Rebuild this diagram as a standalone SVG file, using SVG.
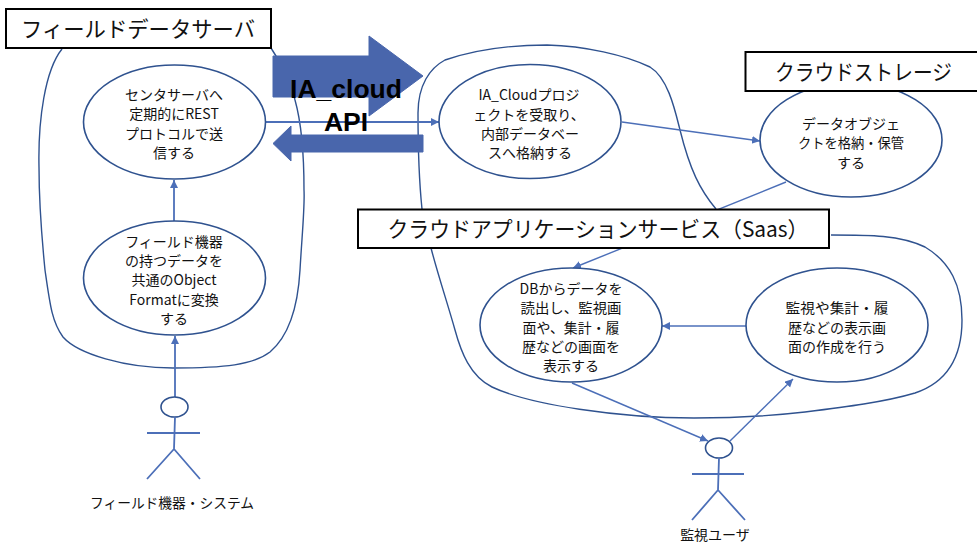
<svg xmlns="http://www.w3.org/2000/svg" width="977" height="543" viewBox="0 0 977 543">
<defs>
<marker id="ah" markerUnits="userSpaceOnUse" markerWidth="10" markerHeight="10" refX="8" refY="4" orient="auto"><path d="M0 0L8 4L0 8Z" fill="#4c6fb8"/></marker>
</defs>
<style>
text{font-family:"Noto Sans CJK JP","Noto Sans",sans-serif;fill:#111;text-anchor:middle}
.t{font-size:14px}
.h{font-size:21.500px}
.b{font-family:"Liberation Sans",Arial,sans-serif;font-weight:700;font-size:26.500px;fill:#000}
.e{fill:#fff;stroke:#2f528f;stroke-width:1.6}
.box{fill:#fff;stroke:#000;stroke-width:2}
.c{fill:none;stroke:#2f528f;stroke-width:1.4}
.k{fill:none;stroke:#4c6fb8;stroke-width:1.4}
.a{fill:none;stroke:#4c6fb8;stroke-width:1.8}
.ar{fill:#4966ac;stroke:#4966ac}
</style>
<rect width="977" height="543" fill="#fff"/>
<g id="clouds">
<path class="c" d="M62 49C45 70 38 120 39 167C39 210 42 240 45 270C50 305 52 322 63 337C78 354 125 368 173 368C225 368 253 365 270 352C290 335 298 305 300 270C302 235 305 205 304 190C304 160 302 125 295 100C291 80 280 62 271 48"/>
<path class="c" d="M431 248C438 275 448 305 455 330C461 352 470 376 492 387C530 405 620 418 694 418C735 418 770 416 805 412C845 407 885 402 915 393C945 383 962 360 962 320C962 285 950 262 925 247C900 235 870 235 831 235"/>
<path class="c" d="M422 209C419 180 418 145 418 113C418 85 430 68 445 60C480 48 520 45 547 45C585 46 625 55 650 67C668 78 675 110 680 130C690 170 700 190 716 209"/>
</g>
<g id="api-arrows">
<path class="ar" d="M273 56H369V36L423 76L369 116V97H273Z"/>
<path class="ar" d="M423 135H291V126L273 143.500L291 161V152H423Z"/>
</g>
<g id="connectors">
<path class="a" marker-end="url(#ah)" d="M265 122H439"/>
<path class="a" marker-end="url(#ah)" d="M174 221V180"/>
<path class="a" marker-end="url(#ah)" d="M175 397V336"/>
<path class="k" marker-end="url(#ah)" d="M622 122L760 141"/>
<path class="k" marker-end="url(#ah)" d="M786 182L573 268"/>
<path class="k" marker-end="url(#ah)" d="M572 383L708 441"/>
<path class="k" marker-end="url(#ah)" d="M746 326H662"/>
<path class="k" marker-end="url(#ah)" d="M730 441L793 379"/>
</g>
<g id="api-label">
<text class="b" x="346" y="98">IA_cloud</text>
<text class="b" x="346" y="131">API</text>
</g>
<g id="n-center"><ellipse class="e" cx="174.500" cy="122" rx="91" ry="57"/>
<text class="t" x="174" y="100">センタサーバへ</text><text class="t" x="174" y="119">定期的にREST</text><text class="t" x="174" y="139">プロトコルで送</text><text class="t" x="174" y="158">信する</text></g>
<g id="n-format"><ellipse class="e" cx="174.500" cy="278" rx="91" ry="57"/>
<text class="t" x="174" y="247">フィールド機器</text><text class="t" x="174" y="266">の持つデータを</text><text class="t" x="174" y="285">共通のObject</text><text class="t" x="174" y="305">Formatに変換</text><text class="t" x="174" y="324">する</text></g>
<g id="n-store"><ellipse class="e" cx="530" cy="121.500" rx="91" ry="57"/>
<text class="t" x="529" y="100">IA_Cloudプロジ</text><text class="t" x="529" y="120">ェクトを受取り、</text><text class="t" x="530" y="139">内部データベー</text><text class="t" x="530" y="158">スへ格納する</text></g>
<g id="n-object"><ellipse class="e" cx="851" cy="140" rx="91" ry="57"/>
<text class="t" x="851" y="129">データオブジェ</text><text class="t" x="851" y="148" textLength="106" lengthAdjust="spacingAndGlyphs">クトを格納・保管</text><text class="t" x="851" y="168">する</text></g>
<g id="n-display"><ellipse class="e" cx="571" cy="325" rx="91" ry="57"/>
<text class="t" x="571" y="294">DBからデータを</text><text class="t" x="571" y="313" textLength="101" lengthAdjust="spacingAndGlyphs">読出し、監視画</text><text class="t" x="571" y="333" textLength="97" lengthAdjust="spacingAndGlyphs">面や、集計・履</text><text class="t" x="571" y="352">歴などの画面を</text><text class="t" x="571" y="371">表示する</text></g>
<g id="n-create"><ellipse class="e" cx="837" cy="325" rx="91" ry="57"/>
<text class="t" x="837" y="313" textLength="103" lengthAdjust="spacingAndGlyphs">監視や集計・履</text><text class="t" x="837" y="333">歴などの表示画</text><text class="t" x="837" y="352">面の作成を行う</text></g>
<g id="l-field"><rect class="box" x="6" y="9" width="265" height="39"/><text class="h" x="138" y="37" textLength="234" lengthAdjust="spacingAndGlyphs">フィールドデータサーバ</text></g>
<g id="l-storage"><rect class="box" x="745.500" y="52" width="240" height="39"/><text class="h" x="863.500" y="80" textLength="177" lengthAdjust="spacingAndGlyphs">クラウドストレージ</text></g>
<g id="l-saas"><rect class="box" x="358" y="209.500" width="471" height="38.500"/><text class="h" x="598" y="237" textLength="421" lengthAdjust="spacingAndGlyphs">クラウドアプリケーションサービス（Saas）</text></g>
<g id="actor-field"><ellipse class="e" cx="174.500" cy="407" rx="13.500" ry="10"/>
<path class="a" d="M175 417L174 449M147 433H200M147 479L174 449L200 479"/>
<text class="t" x="172" y="508" textLength="164" lengthAdjust="spacingAndGlyphs">フィールド機器・システム</text></g>
<g id="actor-user"><ellipse class="e" cx="719" cy="448" rx="13.500" ry="10"/>
<path class="a" d="M719 458L718 490M692 474H744M692 520L718 490L745 520"/>
<text class="t" x="715" y="540">監視ユーザ</text></g>
</svg>
